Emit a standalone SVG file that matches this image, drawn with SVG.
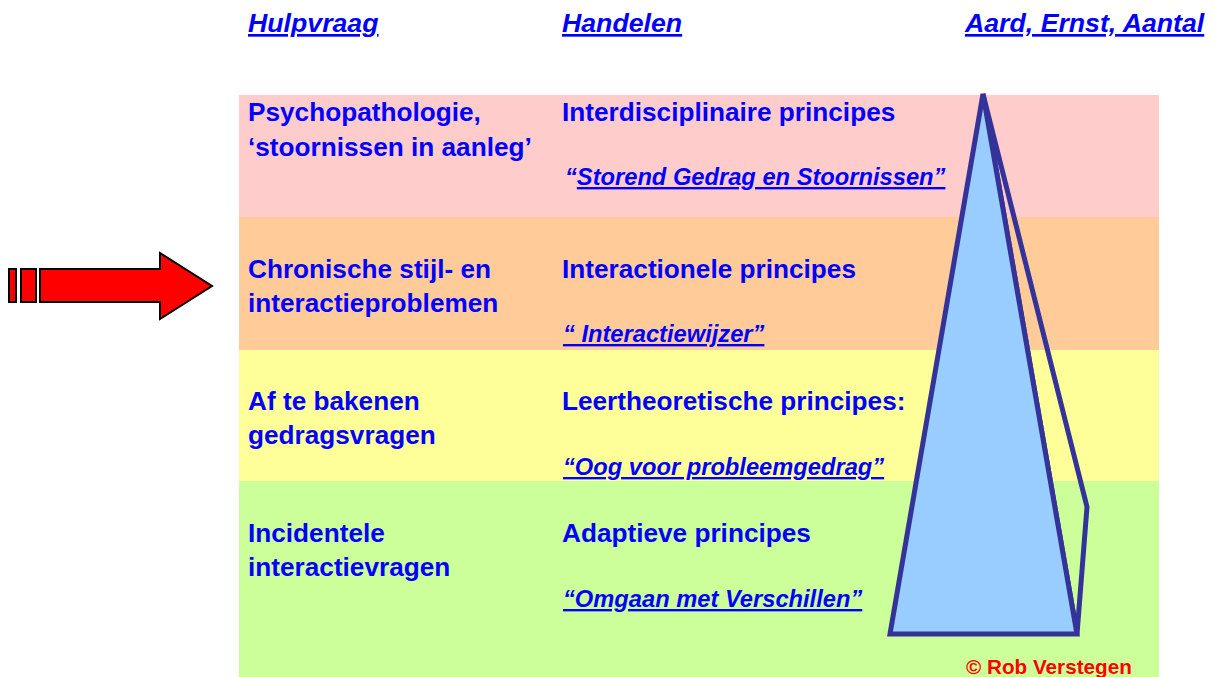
<svg xmlns="http://www.w3.org/2000/svg" width="1215" height="677" viewBox="0 0 1215 677">
<style>
.t{font-family:"Liberation Sans",Arial,sans-serif;font-weight:bold;fill:#0000FF;font-size:26.2px}
.h{font-family:"Liberation Sans",Arial,sans-serif;font-weight:bold;font-style:italic;fill:#0000FF;font-size:26.7px;text-decoration:underline;text-decoration-thickness:3px}
.q{font-family:"Liberation Sans",Arial,sans-serif;font-weight:bold;font-style:italic;fill:#0000FF;font-size:23.7px}
.u{text-decoration:underline;text-decoration-thickness:3px}
.pyr{stroke:#333399;stroke-width:5;stroke-linejoin:miter;stroke-miterlimit:4}
</style>
<rect width="1215" height="677" fill="#FFFFFF"/>
<g id="bands">
<rect x="239" y="95" width="920" height="122" fill="#FFCCCC"/>
<rect x="239" y="217" width="920" height="133" fill="#FFCC99"/>
<rect x="239" y="350" width="920" height="131" fill="#FFFF99"/>
<rect x="239" y="481" width="920" height="196" fill="#CCFF99"/>
</g>
<g id="headers">
<text class="h" x="248" y="32">Hulpvraag</text>
<text class="h" x="562" y="32">Handelen</text>
<text class="h" x="965" y="32">Aard, Ernst, Aantal</text>
</g>
<g id="row1">
<text class="t" x="248" y="121">Psychopathologie,</text>
<text class="t" x="248" y="156">‘stoornissen in aanleg’</text>
<text class="t" x="562" y="121">Interdisciplinaire principes</text>
<text class="q" x="565" y="185">“<tspan class="u">Storend Gedrag en Stoornissen”</tspan></text>
</g>
<g id="row2">
<text class="t" x="248" y="278">Chronische stijl- en</text>
<text class="t" x="248" y="312">interactieproblemen</text>
<text class="t" x="562" y="278">Interactionele principes</text>
<text class="q u" x="563" y="342">“ Interactiewijzer”</text>
</g>
<g id="row3">
<text class="t" x="248" y="410">Af te bakenen</text>
<text class="t" x="248" y="444">gedragsvragen</text>
<text class="t" x="562" y="410">Leertheoretische principes:</text>
<text class="q u" x="563" y="475">“Oog voor probleemgedrag”</text>
</g>
<g id="row4">
<text class="t" x="248" y="542">Incidentele</text>
<text class="t" x="248" y="576">interactievragen</text>
<text class="t" x="562" y="542">Adaptieve principes</text>
<text class="q u" x="563" y="607">“Omgaan met Verschillen”</text>
</g>
<g id="arrow" fill="#FF0000" stroke="#000000" stroke-width="2">
<rect x="9" y="269" width="7" height="33"/>
<rect x="21" y="269" width="15" height="33"/>
<polygon points="40,269 160,269 160,253 212,286 160,319 160,302 40,302"/>
</g>
<g id="pyramid">
<polygon class="pyr" points="983,94 1087,507 1077,634" fill="none"/>
<polygon class="pyr" points="983,94 1077,634 890,634" fill="#99CCFF"/>
</g>
<text id="copyright" x="966" y="674" font-family="'Liberation Sans',Arial,sans-serif" font-weight="bold" font-size="20.7" fill="#FF0000">© Rob Verstegen</text>
</svg>
